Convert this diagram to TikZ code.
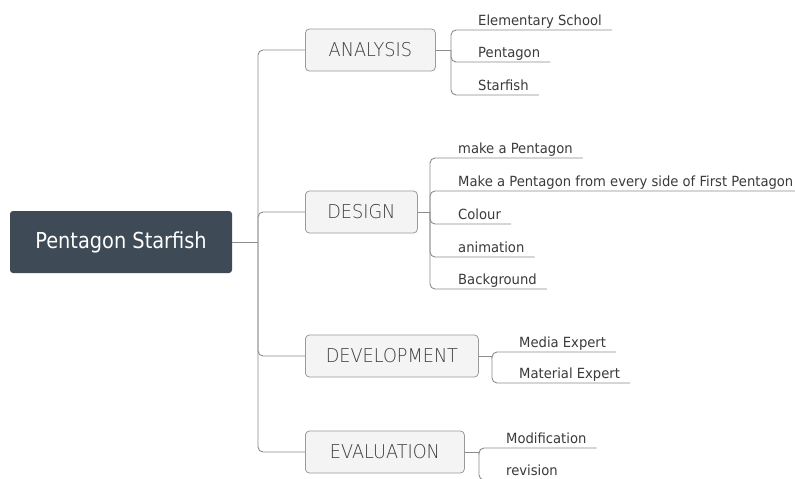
\documentclass[tikz,border=0pt]{standalone}
\usepackage{fontspec}
\setmainfont{DejaVu Sans}
\newfontfamily\rootfnt[FakeStretch=0.88]{DejaVu Sans}
\newfontfamily\brfnt[FakeStretch=0.93]{DejaVu Sans ExtraLight}
\newfontfamily\chfnt[FakeStretch=0.94]{DejaVu Sans}
\usetikzlibrary{calc}
\definecolor{rootbg}{HTML}{3E4A55}
\definecolor{boxbg}{HTML}{F4F4F4}
\definecolor{boxline}{HTML}{9A9A9A}
\definecolor{connc}{HTML}{8C8C8C}
\definecolor{txtc}{HTML}{3A3A3A}
\definecolor{brtxt}{HTML}{3A3A3A}
\begin{document}
\begin{tikzpicture}[x=1pt,y=-1pt,
  rootbox/.style={fill=rootbg, rounded corners=3pt, minimum width=222pt, minimum height=62pt,
    text=white, font=\rootfnt\fontsize{22}{26}\selectfont, inner sep=0pt},
  branchbox/.style={draw=boxline, fill=boxbg, rounded corners=4pt, minimum height=42pt,
    inner xsep=0pt, text=brtxt, font=\brfnt\fontsize{19}{22}\selectfont, anchor=west, line width=0.8pt},
  leaf/.style={anchor=base west, inner sep=0pt, text=txtc, font=\chfnt\fontsize{14}{16}\selectfont},
  link/.style={draw=connc, line width=0.9pt, rounded corners=5pt},
]
\useasboundingbox (0,0) rectangle (795,479);
\fill[white] (0,0) rectangle (795,479);

\node[rootbox] (root) at (121,242) {Pentagon Starfish};

\node[branchbox, minimum width=130pt] (an) at (305,50) {ANALYSIS};
\node[branchbox, minimum width=112pt] (de) at (305,212) {DESIGN};
\node[branchbox, minimum width=173pt] (dv) at (305,356) {DEVELOPMENT};
\node[branchbox, minimum width=159pt] (ev) at (305,452) {EVALUATION};

\coordinate (t) at (258,242);
\draw[link] (root.east) -- (t);
\foreach \b in {an,de,dv,ev}{\draw[link] (t) |- (\b.west);}

% ANALYSIS
\coordinate (ja) at (451,50);
\node[leaf] (a1) at (478,25) {Elementary School};
\node[leaf] (a2) at (478,57) {Pentagon};
\node[leaf] (a3) at (478,90) {Starfish};
\draw[link] (an.east) -- (ja);
\foreach \c in {a1,a2,a3}{\draw[link] (ja) |- ($(\c.base east)+(10,5)$);}

% DESIGN
\coordinate (jd) at (430,212);
\node[leaf] (d1) at (458,153) {make a Pentagon};
\node[leaf] (d2) at (458,186) {Make a Pentagon from every side of First Pentagon};
\node[leaf] (d3) at (458,219) {Colour};
\node[leaf] (d4) at (458,252) {animation};
\node[leaf] (d5) at (458,284) {Background};
\draw[link] (de.east) -- (jd);
\foreach \c in {d1,d2,d3,d4,d5}{\draw[link] (jd) |- ($(\c.base east)+(10,5)$);}

% DEVELOPMENT
\coordinate (jv) at (492,356);
\node[leaf] (v1) at (519,347) {Media Expert};
\node[leaf] (v2) at (519,378) {Material Expert};
\draw[link] (dv.east) -- (jv);
\foreach \c in {v1,v2}{\draw[link] (jv) |- ($(\c.base east)+(10,5)$);}

% EVALUATION
\coordinate (je) at (479,452);
\node[leaf] (e1) at (506,443) {Modification};
\node[leaf] (e2) at (506,475) {revision};
\draw[link] (ev.east) -- (je);
\foreach \c in {e1,e2}{\draw[link] (je) |- ($(\c.base east)+(10,5)$);}
\end{tikzpicture}
\end{document}
